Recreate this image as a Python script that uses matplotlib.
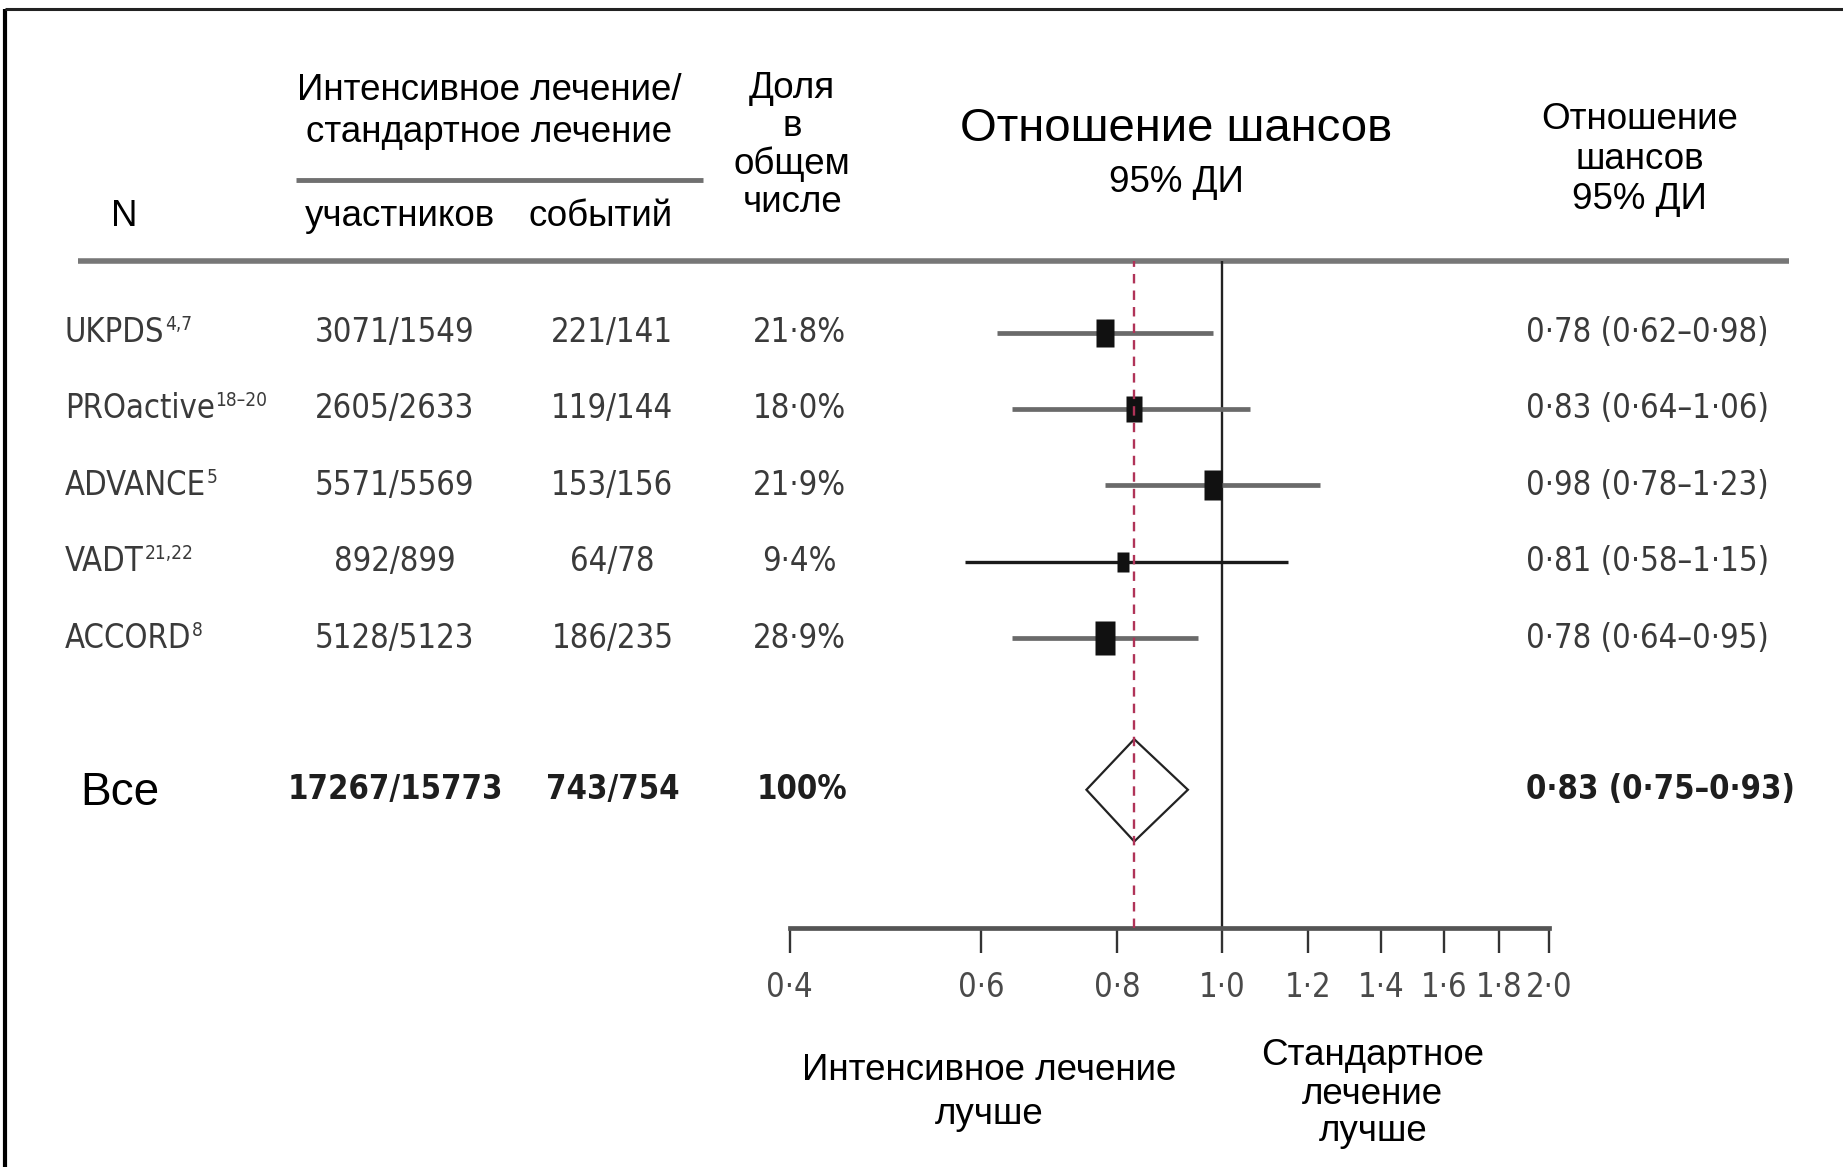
import numpy as np
import matplotlib
matplotlib.use("Agg")
import matplotlib.pyplot as plt
from matplotlib import font_manager
from matplotlib.path import Path
from matplotlib.patches import Polygon
from matplotlib.ticker import NullLocator

# Study data
studies = ['UKPDS', 'PROactive', 'ADVANCE', 'VADT', 'ACCORD']
refs = ['4,7', '18–20', '5', '21,22', '8']
participants = ['3071/1549', '2605/2633', '5571/5569', '892/899', '5128/5123']
events = ['221/141', '119/144', '153/156', '64/78', '186/235']
weights = [21.8, 18.0, 21.9, 9.4, 28.9]
odds = [0.78, 0.83, 0.98, 0.81, 0.78]
ci_low = [0.62, 0.64, 0.78, 0.58, 0.64]
ci_high = [0.98, 1.06, 1.23, 1.15, 0.95]

# Pooled result
total_label = 'Все'
total_participants = '17267/15773'
total_events = '743/754'
total_weight = '100%'
pooled_or, pooled_low, pooled_high = 0.83, 0.75, 0.93

xticks = [0.4, 0.6, 0.8, 1.0, 1.2, 1.4, 1.6, 1.8, 2.0]

SANS = ['Liberation Sans', 'DejaVu Sans']
DATA_COL = '#3a3a3a'

# find a narrow/condensed face for the table numbers if one is installed
narrow_family, narrow_stretch = ['DejaVu Sans'], 'normal'
entries = font_manager.fontManager.ttflist
names = {f.name for f in entries}
if 'Liberation Sans Narrow' in names:
    narrow_family = ['Liberation Sans Narrow', 'DejaVu Sans']
else:
    for fam in ['Noto Sans', 'DejaVu Sans', 'Open Sans', 'Roboto']:
        st = [f.stretch for f in entries if f.name == fam
              and str(f.stretch) in ('condensed', 'semi-condensed', 'extra-condensed')]
        if st:
            narrow_family, narrow_stretch = [fam, 'DejaVu Sans'], st[0]
            break
NARROW = dict(fontfamily=narrow_family, fontstretch=narrow_stretch)


def dot(v, fmt='{:.2f}'):
    return fmt.format(v).replace('.', '·')


W, H = 1568, 993
fig = plt.figure(figsize=(18.43, 11.67), dpi=100)


def fit_size(s, target_px, base=28, **kw):
    t = fig.text(0, 0, s, fontsize=base, **kw)
    w = t.get_window_extent(renderer=fig.canvas.get_renderer()).width
    t.remove()
    return base * target_px / w


# size the narrow text so '3071/1549' is about as wide as in the source
DSIZE = fit_size('3071/1549', 136 * 1843 / W, **NARROW)

# full-figure axes in reference pixel units for the table text
ax_t = fig.add_axes([0, 0, 1, 1])
ax_t.set_xlim(0, W)
ax_t.set_ylim(H, 0)
ax_t.axis('off')

# forest plot axes (log scale odds ratio)
x0, x1, y_top, y_bot = 672, 1318, 222, 790
ax = fig.add_axes([x0 / W, 1 - y_bot / H, (x1 - x0) / W, (y_bot - y_top) / H])
ax.patch.set_alpha(0)
ax.set_xscale('log')
ax.set_xlim(0.4, 2.0)
ax.set_ylim(y_bot, y_top)
for s in ['top', 'left', 'right']:
    ax.spines[s].set_visible(False)
ax.spines['bottom'].set_color('#555555')
ax.spines['bottom'].set_linewidth(3.4)
ax.set_yticks([])
ax.set_xticks(xticks)
ax.xaxis.set_minor_locator(NullLocator())
ax.set_xticklabels([dot(t, '{:.1f}') for t in xticks], fontsize=DSIZE,
                   color='#4a4a4a', **NARROW)
ax.tick_params(axis='x', direction='out', length=18, width=1.7,
               color='#333333', pad=13)

row_y = 283 + 65 * np.arange(len(studies))
pool_y = 672

ax.axvline(1.0, color='#222222', lw=1.7, zorder=1)
ax.axvline(pooled_or, color='#b03358', lw=1.7, ls=(0, (4, 3)), zorder=4)

rect = Path([(-0.3, -0.5), (0.3, -0.5), (0.3, 0.5), (-0.3, 0.5), (-0.3, -0.5)],
            [Path.MOVETO, Path.LINETO, Path.LINETO, Path.LINETO, Path.CLOSEPOLY])
ci_colors = ['#6a6a6a', '#6a6a6a', '#6a6a6a', '#1a1a1a', '#6a6a6a']
ci_widths = [3.4, 3.4, 3.4, 2.4, 3.4]
for i in range(len(studies)):
    ax.plot([ci_low[i], ci_high[i]], [row_y[i], row_y[i]], color=ci_colors[i],
            lw=ci_widths[i], solid_capstyle='butt', zorder=2)
    ax.plot(odds[i], row_y[i], marker=rect, ms=24 * np.sqrt(weights[i] / max(weights)),
            color='#111111', mec='none', zorder=3)

diamond = Polygon([(pooled_low, pool_y), (pooled_or, pool_y - 43),
                   (pooled_high, pool_y), (pooled_or, pool_y + 44)],
                  closed=True, facecolor='white', edgecolor='#222222', lw=1.6, zorder=3)
ax.add_patch(diamond)

# frame and rules
ax_t.plot([4, 4], [8, H], color='black', lw=3, solid_capstyle='butt')
ax_t.plot([4, W], [8, 8], color='#222222', lw=2.2, solid_capstyle='butt')
ax_t.plot([66, 1522], [222, 222], color='#777777', lw=4, solid_capstyle='butt')
ax_t.plot([252, 598], [153, 153], color='#707070', lw=3.5, solid_capstyle='butt')

# headers
hdr = dict(fontfamily=SANS, fontsize=26.5, color='black', ha='center', va='center')
ax_t.text(416, 77, 'Интенсивное лечение/', **hdr)
ax_t.text(416, 113, 'стандартное лечение', **hdr)
ax_t.text(106, 184, 'N', **hdr)
ax_t.text(340, 184, 'участников', **hdr)
ax_t.text(511, 184, 'событий', **hdr)
for yy, line in zip([75, 108, 140, 172], ['Доля', 'в', 'общем', 'числе']):
    ax_t.text(674, yy, line, **hdr)
ax_t.text(1001, 110, 'Отношение шансов', fontfamily=SANS, fontsize=34,
          ha='center', va='center')
ax_t.text(1001, 155, '95% ДИ', **hdr)
for yy, line in zip([102, 136, 170], ['Отношение', 'шансов', '95% ДИ']):
    ax_t.text(1395, yy, line, **hdr)
for yy, line in zip([911, 948], ['Интенсивное лечение', 'лучше']):
    ax_t.text(842, yy, line, **hdr)
for yy, line in zip([898, 931, 963], ['Стандартное', 'лечение', 'лучше']):
    ax_t.text(1168, yy, line, **hdr)

# study rows
cell = dict(fontsize=DSIZE, color=DATA_COL, va='center', **NARROW)
name_texts = []
for i, name in enumerate(studies):
    y = row_y[i]
    name_texts.append(ax_t.text(55, y, name, ha='left', **cell))
    ax_t.text(336, y, participants[i], ha='center', **cell)
    ax_t.text(521, y, events[i], ha='center', **cell)
    ax_t.text(680, y, dot(weights[i], '{:.1f}') + '%', ha='center', **cell)
    ax_t.text(1298, y, f'{dot(odds[i])} ({dot(ci_low[i])}–{dot(ci_high[i])})',
              ha='left', **cell)

# pooled row
bold = dict(fontsize=DSIZE, color='#1e1e1e', fontweight='bold', va='center', **NARROW)
ax_t.text(68, pool_y + 3, total_label, fontfamily=SANS, fontsize=33, color='black',
          ha='left', va='center')
ax_t.text(336, pool_y, total_participants, ha='center', **bold)
ax_t.text(521, pool_y, total_events, ha='center', **bold)
ax_t.text(682, pool_y, total_weight, ha='center', **bold)
ax_t.text(1298, pool_y, f'{dot(pooled_or)} ({dot(pooled_low)}–{dot(pooled_high)})',
          ha='left', **bold)

# superscript references placed right after each study name
fig.canvas.draw()
inv = ax_t.transData.inverted()
for t, r in zip(name_texts, refs):
    bb = t.get_window_extent()
    xr, ytop = inv.transform((bb.x1 + 1, bb.y1 + 1))
    ax_t.text(xr, ytop, r, fontsize=DSIZE * 0.58, color=DATA_COL,
              ha='left', va='top', **NARROW)

fig.savefig('out.png', dpi=100)
